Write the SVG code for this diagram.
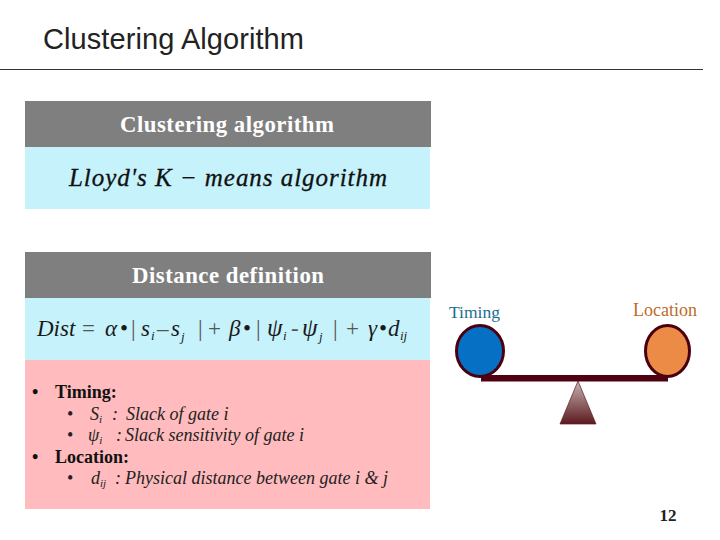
<svg xmlns="http://www.w3.org/2000/svg" width="720" height="540" viewBox="0 0 720 540">
<style>
.head{font:bold 22.800px "Liberation Serif",serif;fill:#fff;text-anchor:start}
.gray{fill:#7f7f7f}.cyan{fill:#c6f2fb}
.m{font-family:"Liberation Serif",serif;font-style:italic;fill:#1a1a1a}
.u{font-style:normal;fill:#555}
.b{font:bold 18px "Liberation Serif",serif;fill:#111}
.i{font:italic 18px "Liberation Serif",serif;fill:#222}
.bu{font:18px "Liberation Serif",serif;fill:#222}
.sub{font-size:11px}
.ball{stroke:#4a0010;stroke-width:3}
</style>
<defs><linearGradient id="tri" x1="0" y1="0" x2="0" y2="1"><stop offset="0" stop-color="#c9b3b3"/><stop offset="1" stop-color="#5c1a1f"/></linearGradient></defs>
<rect width="720" height="540" fill="#fff"/>
<text x="43" y="49" font-family="'Liberation Sans',sans-serif" font-size="29" fill="#222" textLength="261">Clustering Algorithm</text>
<line x1="0" y1="69.500" x2="703" y2="69.500" stroke="#333" stroke-width="1"/>
<g id="clustering-panel">
<rect class="gray" x="25" y="101" width="406" height="46"/>
<rect class="cyan" x="25" y="147" width="405" height="62"/>
<text class="head" x="120" y="132" textLength="214">Clustering algorithm</text>
<text x="69" y="186" font-family="'Liberation Serif',serif" font-style="italic" font-size="25" fill="#111" stroke="#111" stroke-width=".3" textLength="318">Lloyd's K − means algorithm</text>
</g>
<g id="distance-panel">
<rect class="gray" x="25" y="252" width="406" height="46"/>
<rect class="cyan" x="25" y="298" width="405" height="62"/>
<text class="head" x="132" y="283" textLength="192">Distance definition</text>
<text class="m" font-size="23" y="336"><tspan x="37">Dist</tspan><tspan x="82" class="u">=</tspan><tspan x="105">α</tspan><tspan x="120" font-style="normal">•</tspan><tspan x="131" class="u">|</tspan><tspan x="141">s</tspan><tspan x="151" dy="4" font-size="13">i</tspan><tspan x="157" dy="-4" class="u">–</tspan><tspan x="171">s</tspan><tspan x="181" dy="5" font-size="13">j</tspan><tspan x="198" dy="-5" class="u">|</tspan><tspan x="208" class="u">+</tspan><tspan x="229">β</tspan><tspan x="243" font-style="normal">•</tspan><tspan x="256" class="u">|</tspan><tspan x="267" font-size="25">ψ</tspan><tspan x="283" dy="4" font-size="13">i</tspan><tspan x="291" dy="-4" class="u">-</tspan><tspan x="302" font-size="25">ψ</tspan><tspan x="319" dy="5" font-size="13">j</tspan><tspan x="333" dy="-5" class="u">|</tspan><tspan x="346" class="u">+</tspan><tspan x="368">γ</tspan><tspan x="379" font-style="normal">•</tspan><tspan x="388">d</tspan><tspan x="400" dy="4" font-size="13">ij</tspan></text>
</g>
<g id="legend-panel">
<rect x="25" y="360" width="405" height="149" fill="#ffbbbd"/>
<text class="b" x="32" y="398">•</text><text class="b" x="55" y="398">Timing:</text>
<text class="bu" x="67" y="420">•</text><text class="i" x="90" y="420">S<tspan class="sub" dy="3">i</tspan><tspan dy="-3" x="112">:</tspan><tspan x="126">Slack of gate i</tspan></text>
<text class="bu" x="67" y="441">•</text><text class="i" x="88" y="441">ψ<tspan class="sub" dy="3">i</tspan><tspan dy="-3" x="116">:</tspan><tspan x="125">Slack sensitivity of gate i</tspan></text>
<text class="b" x="32" y="463">•</text><text class="b" x="55" y="463">Location:</text>
<text class="bu" x="67" y="484">•</text><text class="i" x="91" y="484">d<tspan class="sub" dy="3">ij</tspan><tspan dy="-3" x="115">:</tspan><tspan x="125">Physical distance between gate i &amp; j</tspan></text>
</g>
<g id="timing">
<ellipse class="ball" cx="480" cy="351" rx="23.500" ry="25.500" fill="#0670c4"/>
<text x="474.500" y="318" font-family="'Liberation Serif',serif" font-size="17.500" fill="#1c6d90" text-anchor="middle">Timing</text>
</g>
<g id="location">
<ellipse class="ball" cx="667.500" cy="351" rx="22" ry="25.500" fill="#ec8b45"/>
<text x="665" y="316" font-family="'Liberation Serif',serif" font-size="18" fill="#bd6b2b" text-anchor="middle">Location</text>
</g>
<g id="balance">
<rect x="481" y="375" width="187" height="6.500" fill="#4f0011"/>
<polygon points="578,381 596,424 560,424" fill="url(#tri)" stroke="#5c1a1f" stroke-width=".7"/>
</g>
<text x="668" y="521" font-family="'Liberation Serif',serif" font-weight="bold" font-size="17" fill="#222" text-anchor="middle">12</text>
</svg>
